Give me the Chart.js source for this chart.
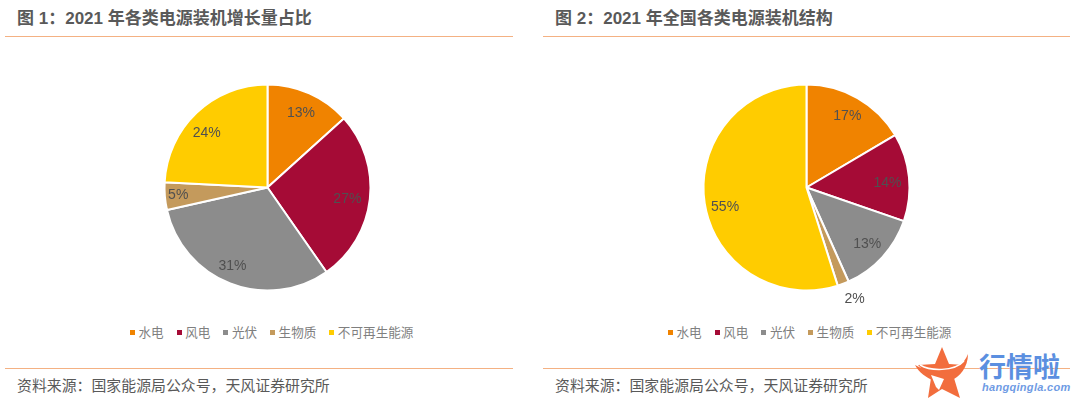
<!DOCTYPE html>
<html lang="zh">
<head>
<meta charset="utf-8">
<title>电源装机</title>
<script src="https://cdn.jsdelivr.net/npm/chart.js@4/dist/chart.umd.min.js"></script>
<style>
  html, body { margin: 0; padding: 0; background: #fff; }
  body { width: 1080px; height: 402px; position: relative; overflow: hidden;
         font-family: "Liberation Sans", "Noto Sans CJK SC", sans-serif; color: #595959; }
  .title { position: absolute; top: 9px; font-size: 17px; font-weight: bold; line-height: 20px; white-space: pre; }
  .source { position: absolute; top: 376px; font-size: 14.9px; line-height: 20px; white-space: pre; }
  .rule { position: absolute; height: 1px; background: #f4b183; }
  .box { position: absolute; top: 60px; height: 255px; }
  .legend { position: absolute; top: 323px; display: flex; font-size: 12.6px; line-height: 18px; color: #7f7f7f;
            font-family: "Noto Sans CJK SC", sans-serif; white-space: pre; }
  .legend span { display: flex; align-items: center; margin-right: 13px; }
  .legend i { width: 5px; height: 5px; margin-right: 3.5px; }
  #logo { position: absolute; left: 912px; top: 345px; }
  #logoName { position: absolute; left: 979px; top: 352px; font-size: 27px; font-weight: bold; line-height: 32px;
              color: #5b8fe0; white-space: pre; }
  #logoUrl { position: absolute; left: 982px; top: 380px; font-size: 11px; font-weight: bold; font-style: italic;
             line-height: 14px; color: #6f9be4; letter-spacing: 0.3px; white-space: pre; }
</style>
</head>
<body>
<div class="title" style="left:17px">图 1：2021 年各类电源装机增长量占比</div>
<div class="title" style="left:555px">图 2：2021 年全国各类电源装机结构</div>
<div class="rule" style="left:5px;width:508px;top:36px"></div>
<div class="rule" style="left:543px;width:527px;top:36px"></div>

<div class="box" style="left:5px;width:525px"><canvas id="chart1"></canvas></div>
<div class="box" style="left:544px;width:525px"><canvas id="chart2"></canvas></div>
<div class="legend" id="legend1" style="left:130px"></div>
<div class="legend" id="legend2" style="left:668px"></div>

<div class="rule" style="left:5px;width:508px;top:368px"></div>
<div class="rule" style="left:543px;width:527px;top:368px"></div>
<div class="source" style="left:17px">资料来源：国家能源局公众号，天风证券研究所</div>
<div class="source" style="left:555px">资料来源：国家能源局公众号，天风证券研究所</div>

<svg id="logo" width="60" height="56" viewBox="0 0 60 56">
  <polygon fill="#f26d3d" points="30,2 37,19 52,20 42,33 48,53 30,44 16,53 19,33 6,20 23,19"/>
  <path fill="#f26d3d" d="M3 20 C12 25 20 27 30 26 C42 25 52 20 56 9 C56 22 48 32 38 36 L22 36 C14 32 7 28 3 20 Z"/>
  <path fill="none" stroke="#fff" stroke-width="1.5" d="M8 20 C18 26 42 27 52 16"/>
  <path fill="#fff" d="M19 30 L32 34 L27 45 L24 42 Z"/>
</svg>
<div id="logoName">行情啦</div>
<div id="logoUrl">hangqingla.com</div>

<script>
const categories = ['水电', '风电', '光伏', '生物质', '不可再生能源'];
const colors = ['#f08300', '#a50b36', '#8c8c8c', '#c49a5c', '#ffcc00'];

// 扇区大小按图上读数，标签按原图文字
const growthShare = [13.3, 27, 31.2, 4.3, 24.2];
const growthLabels = ['13%', '27%', '31%', '5%', '24%'];
const structureShare = [16.5, 13.8, 13, 1.8, 54.9];
const structureLabels = ['17%', '14%', '13%', '2%', '55%'];

const pieLabels = {
  id: 'pieLabels',
  afterDatasetsDraw(chart, args, opts) {
    const ctx = chart.ctx;
    const arcs = chart.getDatasetMeta(0).data;
    ctx.save();
    ctx.font = '14px "Liberation Sans", sans-serif';
    ctx.fillStyle = '#505050';
    ctx.textAlign = 'center';
    ctx.textBaseline = 'middle';
    arcs.forEach((arc, i) => {
      const mid = (arc.startAngle + arc.endAngle) / 2;
      const r = arc.outerRadius * opts.ratio[i];
      const x = arc.x + Math.cos(mid) * r + opts.nudge[i][0];
      const y = arc.y + Math.sin(mid) * r + opts.nudge[i][1];
      ctx.fillText(opts.texts[i], x, y);
    });
    ctx.restore();
  }
};

function desenhaPizza(id, valores, textos, ratio, nudge) {
  new Chart(document.getElementById(id), {
    type: 'pie',
    data: {
      labels: categories,
      datasets: [{
        data: valores,
        backgroundColor: colors,
        borderColor: '#fff',
        borderWidth: 2
      }]
    },
    options: {
      responsive: true,
      maintainAspectRatio: false,
      animation: false,
      radius: 103,
      plugins: {
        tooltip: { enabled: false },
        legend: { display: false },
        pieLabels: { texts: textos, ratio: ratio, nudge: nudge }
      }
    },
    plugins: [pieLabels]
  });
}

function desenhaLegenda(id) {
  const html = categories.map((nome, i) =>
    `<span><i style="background:${colors[i]}"></i>${nome}</span>`).join('');
  document.getElementById(id).innerHTML = html;
}

desenhaPizza('chart1', growthShare, growthLabels,
  [0.8, 0.79, 0.83, 0.87, 0.8],
  [[0, 1], [-1, 2], [-4, -1], [0, 0], [-4, 5]]);
desenhaPizza('chart2', structureShare, structureLabels,
  [0.8, 0.8, 0.8, 1.2, 0.8],
  [[0, 0], [-1, 4], [0, 1], [4, -4], [0, 7]]);
desenhaLegenda('legend1');
desenhaLegenda('legend2');
</script>
</body>
</html>
